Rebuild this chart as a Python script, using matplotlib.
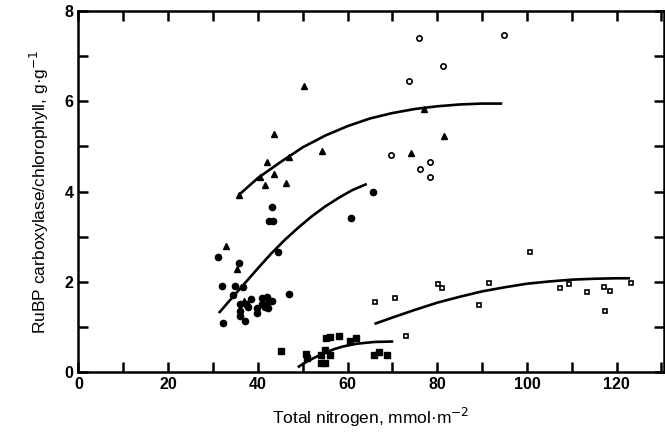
import matplotlib
matplotlib.use("Agg")
import matplotlib.pyplot as plt
from matplotlib.ticker import MultipleLocator

plt.rcParams["font.family"] = ["Liberation Sans", "DejaVu Sans"]

# filled circles (upper cluster)
dot_x = [31.2, 31.9, 32.3, 34.4, 34.9, 36.7, 35.8, 36.1, 36.1, 36.1, 37.3, 37.2, 37.7,
         38.4, 39.9, 39.9, 40.9, 42.1, 40.9, 42.1, 43.1, 42.3, 41.5, 43.1, 42.4, 43.4,
         44.5, 46.9, 65.6, 60.8]
dot_y = [2.56, 1.92, 1.10, 1.70, 1.90, 1.89, 2.41, 1.50, 1.36, 1.24, 1.52, 1.13, 1.45,
         1.62, 1.43, 1.32, 1.65, 1.66, 1.50, 1.52, 1.58, 1.42, 1.45, 3.66, 3.36, 3.36,
         2.67, 1.73, 4.00, 3.42]

# filled squares (lower cluster)
fsq_x = [45.2, 50.8, 50.9, 54.0, 54.1, 54.9, 55.0, 56.0, 55.1, 56.0, 58.0, 60.5, 61.9,
         66.0, 67.0, 68.9]
fsq_y = [0.47, 0.40, 0.31, 0.37, 0.20, 0.20, 0.49, 0.38, 0.75, 0.78, 0.81, 0.70, 0.75,
         0.37, 0.44, 0.37]

# triangles
tri_x = [32.8, 35.4, 37.0, 35.8, 40.4, 41.7, 42.0, 43.5, 43.7, 46.3, 46.9, 50.4, 54.4,
         74.2, 77.1, 81.6]
tri_y = [2.80, 2.29, 1.57, 3.93, 4.33, 4.15, 4.65, 4.40, 5.27, 4.20, 4.76, 6.33, 4.89,
         4.85, 5.83, 5.24]

# open circles
oc_x = [75.9, 94.8, 81.4, 73.7, 69.8, 78.3, 76.1, 78.5]
oc_y = [7.40, 7.48, 6.78, 6.45, 4.80, 4.65, 4.50, 4.32]

# open squares
osq_x = [66.1, 70.6, 73.1, 80.1, 81.0, 89.3, 91.5, 100.6, 107.3, 109.5, 113.3, 117.3,
         118.5, 117.5, 123.2]
osq_y = [1.55, 1.65, 0.81, 1.96, 1.87, 1.48, 1.98, 2.66, 1.87, 1.96, 1.78, 1.89,
         1.79, 1.36, 1.97]

# fitted curves
c1_x = [35.8, 40, 45, 50, 55, 60, 65, 70, 75, 80, 85, 90, 94.5]
c1_y = [3.93, 4.30, 4.65, 4.98, 5.24, 5.45, 5.62, 5.74, 5.83, 5.89, 5.93, 5.95, 5.95]
c2_x = [31.3, 34, 37, 40, 43, 46, 49, 52, 55, 58, 61, 64.3]
c2_y = [1.31, 1.62, 1.96, 2.30, 2.63, 2.93, 3.20, 3.45, 3.67, 3.86, 4.03, 4.17]
c3_x = [48.9, 51, 53, 55, 57, 59, 62, 66, 70.2]
c3_y = [0.11, 0.24, 0.34, 0.43, 0.51, 0.57, 0.63, 0.67, 0.68]
c4_x = [66, 70, 75, 80, 85, 90, 95, 100, 105, 110, 115, 120, 123]
c4_y = [1.07, 1.21, 1.38, 1.54, 1.67, 1.79, 1.88, 1.96, 2.01, 2.05, 2.07, 2.08, 2.08]

fig = plt.figure(figsize=(6.65, 4.41), dpi=100)
ax = fig.add_axes([0.118, 0.156, 0.880, 0.819])

for cx, cy in [(c1_x, c1_y), (c2_x, c2_y), (c3_x, c3_y), (c4_x, c4_y)]:
    ax.plot(cx, cy, color="black", lw=1.9, solid_capstyle="butt")

ax.plot(dot_x, dot_y, "o", ms=4.5, color="black", ls="none")
ax.plot(fsq_x, fsq_y, "s", ms=4, color="black", ls="none")
ax.plot(tri_x, tri_y, "^", ms=4, color="black", ls="none")
ax.plot(oc_x, oc_y, "o", ms=3.8, mfc="white", mec="black", mew=1.2, ls="none")
ax.plot(osq_x, osq_y, "s", ms=3.4, mfc="white", mec="black", mew=1.2, ls="none")

ax.set_xlim(0, 130.5)
ax.set_ylim(0, 8)
ax.xaxis.set_major_locator(MultipleLocator(20))
ax.xaxis.set_minor_locator(MultipleLocator(10))
ax.yaxis.set_major_locator(MultipleLocator(2))
ax.yaxis.set_minor_locator(MultipleLocator(1))
ax.tick_params(which="both", direction="in", top=True, right=True,
               length=7, width=1.8)
ax.tick_params(labelsize=11.5)
for lab in ax.get_xticklabels() + ax.get_yticklabels():
    lab.set_fontweight("bold")
for s in ax.spines.values():
    s.set_linewidth(1.8)

ax.set_xlabel("Total nitrogen, mmol\u00b7m$^{-2}$", fontsize=12.5, labelpad=10)
ax.set_ylabel("RuBP carboxylase/chlorophyll, g\u00b7g$^{-1}$", fontsize=12.5, labelpad=10)

fig.savefig("out.png", dpi=100)
